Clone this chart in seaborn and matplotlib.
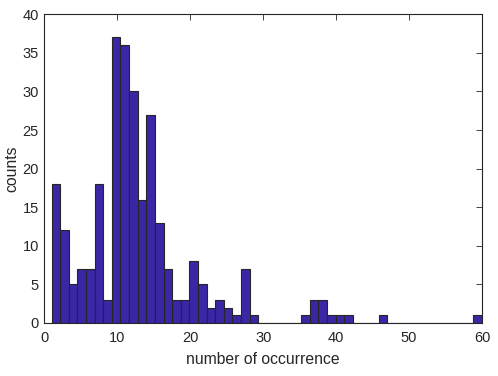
import numpy as np
import pandas as pd
import seaborn as sns
import matplotlib.pyplot as plt

# histogram counts per bin (50 equal bins between 1 and 60)
bin_lo = 1
bin_hi = 60
n_bins = 50
counts = [18, 12, 5, 7, 7, 18, 3, 37, 36, 30,
          16, 27, 13, 7, 3, 3, 8, 5, 2, 3,
          2, 1, 7, 1, 0, 0, 0, 0, 0, 1,
          3, 3, 1, 1, 1, 0, 0, 0, 1, 0,
          0, 0, 0, 0, 0, 0, 0, 0, 0, 1]
x_ticks = [0, 10, 20, 30, 40, 50, 60]
y_ticks = [0, 5, 10, 15, 20, 25, 30, 35, 40]


def display_plot():
    sns.set_style("white")
    plt.rcParams["font.family"] = ["Liberation Sans", "DejaVu Sans"]

    edges = np.linspace(bin_lo, bin_hi, n_bins + 1)
    df = pd.DataFrame({"occ": (edges[:-1] + edges[1:]) / 2, "n": counts})

    fig = plt.figure(figsize=(4.98, 3.76), dpi=100)
    ax = fig.add_axes([0.089, 0.141, 0.879, 0.821])
    sns.histplot(data=df, x="occ", weights="n", bins=list(edges), ax=ax,
                 color="#3a27a6", alpha=1, edgecolor="#262626", linewidth=0.8)

    ax.set_xlim(0, 60)
    ax.set_ylim(0, 40)
    ax.set_xticks(x_ticks)
    ax.set_yticks(y_ticks)
    ax.tick_params(direction="in", length=4, width=0.6, labelsize=10.5,
                   top=True, right=True, colors="#262626", labelcolor="#262626")
    ax.tick_params(axis="x", pad=6)
    ax.tick_params(axis="y", pad=4)
    for side in ax.spines.values():
        side.set_color("#262626")
        side.set_linewidth(0.8)
    ax.set_xlabel("number of occurrence", fontsize=11.3, color="#262626", labelpad=5)
    ax.set_ylabel("counts", fontsize=11.3, color="#262626", labelpad=2)

    plt.savefig("out.png", dpi=100)


if __name__ == '__main__':
    display_plot()
